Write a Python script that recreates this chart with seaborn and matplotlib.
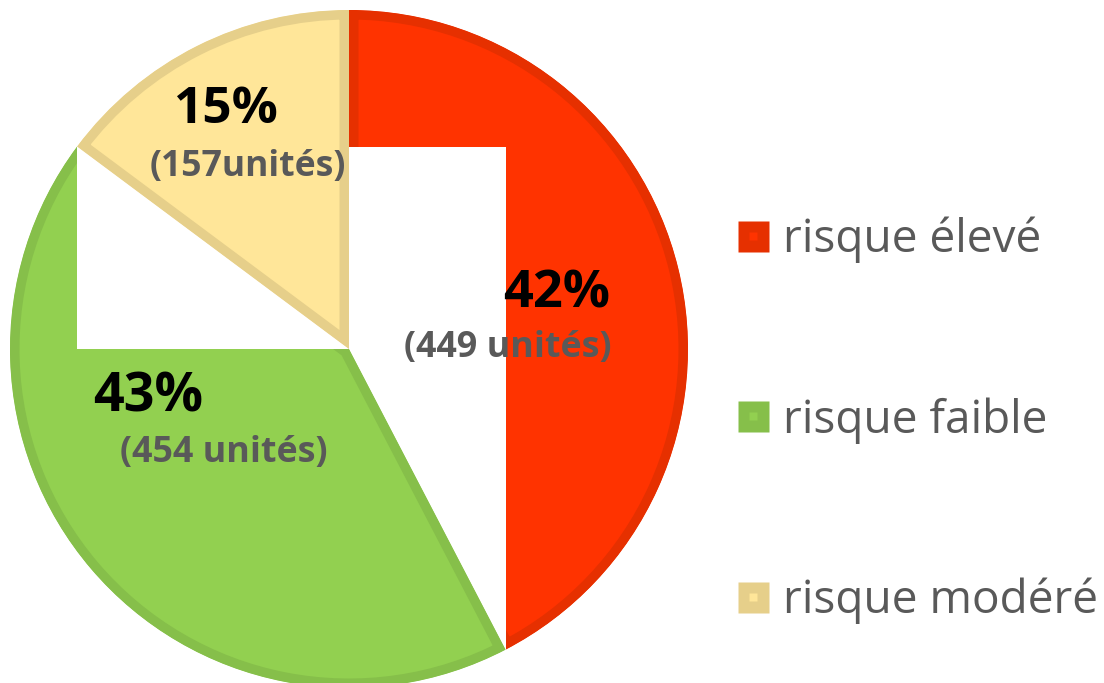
import numpy as np
import matplotlib
matplotlib.use("Agg")
import matplotlib.pyplot as plt
import seaborn as sns
from matplotlib.patches import Rectangle, Wedge
from matplotlib.lines import Line2D
from matplotlib.legend_handler import HandlerTuple

# ---- data ----
categories = ["risque élevé", "risque faible", "risque modéré"]
units = [449, 454, 157]
unit_labels = ["(449 unités)", "(454 unités)", "(157unités)"]

# ---- styles ----
fills = ["#FF3300", "#92D050", "#FFE699"]
borders = ["#E63000", "#86BF4A", "#E6CF8A"]
TEXT_GREY = "#595959"

# label placement (image pixel coords: left x, baseline y, target width)
pct_pos = [(503, 307, 107), (93, 412, 110), (173, 123, 105)]
unit_pos = [(404, 357, 208), (120, 462, 208), (150, 176, 197)]

sns.set_theme(style="white")
plt.rcParams["font.family"] = ["Open Sans", "DejaVu Sans"]

W, H = 1104, 683
fig = plt.figure(figsize=(W / 100, H / 100), dpi=100)
ax = fig.add_axes([0, 0, 1, 1])

cx, cy_img, R = 349, 349, 339
cy = H - cy_img
wedges, _ = ax.pie(units, colors=fills, startangle=90, counterclock=False,
                   center=(cx, cy), radius=R,
                   wedgeprops=dict(linewidth=13.7))
ax.set_xlim(0, W)
ax.set_ylim(0, H)
ax.set_aspect("auto")
ax.axis("off")

for w, ec, z in zip(wedges, borders, [1, 3, 5]):
    w.set_edgecolor(ec)
    w.set_zorder(z)
    clip = Wedge(w.center, w.r, w.theta1, w.theta2, transform=ax.transData)
    w.set_clip_on(True)
    w.set_clip_path(clip)

# white overlay boxes (derived from the slice geometry)
a_red = np.deg2rad(wedges[0].theta1)
xr = cx + R * np.cos(a_red)
a_y = np.deg2rad(wedges[2].theta2)
xy = cx + R * np.cos(a_y)
yy = cy + R * np.sin(a_y)
ax.add_patch(Rectangle((cx, -10), xr - cx, yy + 10, facecolor="white",
                       edgecolor="none", zorder=2))
ax.add_patch(Rectangle((xy, cy), cx - xy, yy - cy, facecolor="white",
                       edgecolor="none", zorder=4))

renderer = fig.canvas.get_renderer()


def fit_text(s, x_img, base_img, width, color):
    t = ax.text(x_img, H - base_img, s, ha="left", va="baseline", fontsize=30,
                color=color, fontweight="bold", zorder=10)
    w = t.get_window_extent(renderer).width
    t.set_fontsize(30 * width / w)
    return t


total = sum(units)
for u, ul, pp, up in zip(units, unit_labels, pct_pos, unit_pos):
    fit_text(f"{round(100 * u / total)}%", *pp, "black")
    fit_text(ul, *up, TEXT_GREY)

# ---- legend ----
tmp = ax.text(0, 0, categories[0], fontsize=30)
lw = tmp.get_window_extent(renderer).width
tmp.remove()
fs_pt = 30 * 258 / lw
fs_px = fs_pt * 100 / 72

handles = [(Line2D([], [], marker="s", ls="none", markersize=31 * 0.72,
                   markerfacecolor=b, markeredgecolor="none"),
            Line2D([], [], marker="s", ls="none", markersize=8 * 0.72,
                   markerfacecolor=f, markeredgecolor="none"))
           for f, b in zip(fills, borders)]


def make_legend(spacing, anchor):
    return ax.legend(handles, categories,
                     handler_map={tuple: HandlerTuple(ndivide=1, pad=0)},
                     loc="upper left", bbox_to_anchor=anchor, frameon=False,
                     fontsize=fs_pt, labelcolor=TEXT_GREY,
                     handlelength=31 / fs_px, handletextpad=15 / fs_px,
                     borderpad=0, borderaxespad=0, labelspacing=spacing)


def anchors(leg):
    fig.canvas.draw()
    return [t.get_transform().transform(t.get_position()) for t in leg.get_texts()]


anchor = (735 / W, (H - 210) / H)
leg = make_legend(1.0, anchor)
a = anchors(leg)
pitch = a[0][1] - a[1][1]
spacing = 1.0 + (180.5 - pitch) / fs_px
leg.remove()
leg = make_legend(spacing, anchor)
a = anchors(leg)
dx = 783 - a[0][0]
dy = (H - 252) - a[0][1]
leg.remove()
leg = make_legend(spacing, (anchor[0] + dx / W, anchor[1] + dy / H))

fig.savefig("out.png", dpi=100)
